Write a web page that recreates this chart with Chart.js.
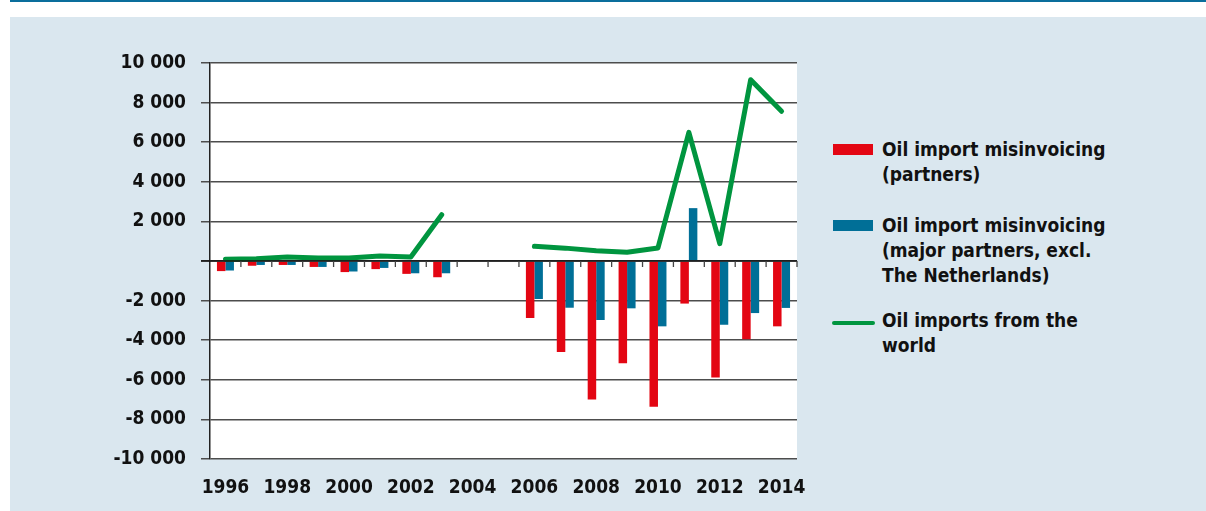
<!DOCTYPE html>
<html>
<head>
<meta charset="utf-8">
<script src="https://cdn.jsdelivr.net/npm/chart.js@4.4.1/dist/chart.umd.min.js"></script>
<style>
  html, body { margin: 0; padding: 0; background: #ffffff; }
  #page { position: relative; width: 1206px; height: 511px; overflow: hidden; }
  #topRule { position: absolute; left: 10px; top: 0; width: 1196px; height: 2px; background: #0a6e9c; }
  #panel { position: absolute; left: 10px; top: 17px; width: 1196px; height: 494px; background: #dae7ef; }
  #oilChart { position: absolute; left: 0; top: 0; }
  #legend { position: absolute; left: 0; top: 0; }
  .legend-item { position: absolute; left: 882px; white-space: nowrap; font-family: 'DejaVu Sans Condensed', 'Liberation Sans Narrow', sans-serif; font-weight: bold; font-size: 19px; line-height: 25px; color: #111; }
  .legend-swatch { position: absolute; left: -49px; width: 40px; }
</style>
</head>
<body>
<div id="page">
  <div id="topRule"></div>
  <div id="panel"></div>
  <canvas id="oilChart" width="820" height="511"></canvas>
  <div id="legend"></div>
</div>
<script>
// --- DATA ---
const years = ['1996', '1997', '1998', '1999', '2000', '2001', '2002', '2003', '2004', '2005',
               '2006', '2007', '2008', '2009', '2010', '2011', '2012', '2013', '2014'];
const partnersMisinvoicing = [-510, -240, -200, -300, -560, -410, -650, -820, null, null,
                              -2880, -4590, -7000, -5170, -7360, -2150, -5880, -3950, -3300];
const majorPartnersMisinvoicing = [-480, -200, -200, -300, -530, -350, -620, -620, null, null,
                                   -1920, -2360, -2980, -2390, -3300, 2670, -3220, -2630, -2370];
const worldImports = [90, 110, 200, 150, 150, 250, 200, 2340, null, null,
                      740, 650, 520, 440, 660, 6500, 875, 9150, 7560];
const yTicks = [-10000, -8000, -6000, -4000, -2000, 0, 2000, 4000, 6000, 8000, 10000];

const seriesLabels = [
    'Oil import misinvoicing (partners)',
    'Oil import misinvoicing (major partners, excl. The Netherlands)',
    'Oil imports from the world'
];
// how the legend breaks each label
const legendLines = [
    ['Oil import misinvoicing', '(partners)'],
    ['Oil import misinvoicing', '(major partners, excl.', 'The Netherlands)'],
    ['Oil imports from the', 'world']
];

const RED = '#e30613';
const BLUE = '#006f97';
const GREEN = '#00953f';
const FONT = "'DejaVu Sans Condensed', 'Liberation Sans Narrow', sans-serif";

function formatThousands(v) {
    if (v === 0) return '';
    const sign = v < 0 ? '-' : '';
    return sign + String(Math.abs(v)).replace(/\B(?=(\d{3})+(?!\d))/g, ' ');
}

// zero line plus small tick marks hanging below it at every category boundary
const zeroLineTicks = {
    id: 'zeroLineTicks',
    afterDatasetsDraw(chart) {
        const { ctx, scales: { x, y } } = chart;
        const y0 = y.getPixelForValue(0);
        ctx.save();
        ctx.strokeStyle = '#111';
        ctx.lineWidth = 1.5;
        ctx.beginPath();
        ctx.moveTo(x.left - 9, y0);
        ctx.lineTo(x.right, y0);
        ctx.stroke();
        ctx.lineWidth = 1.3;
        ctx.strokeStyle = '#444';
        const half = (x.getPixelForValue(1) - x.getPixelForValue(0)) / 2;
        for (let i = 0; i < years.length; i++) {
            const bx = x.getPixelForValue(i) + half;
            ctx.beginPath();
            ctx.moveTo(bx, y0);
            ctx.lineTo(bx, y0 + 6);
            ctx.stroke();
        }
        ctx.restore();
    }
};

const plotBackground = {
    id: 'plotBackground',
    beforeDraw(chart) {
        const { ctx, chartArea } = chart;
        ctx.save();
        ctx.fillStyle = '#ffffff';
        ctx.fillRect(chartArea.left, chartArea.top, chartArea.right - chartArea.left, chartArea.bottom - chartArea.top);
        ctx.restore();
    }
};

const ctx = document.getElementById('oilChart').getContext('2d');
const oilChart = new Chart(ctx, {
    type: 'bar',
    data: {
        labels: years,
        datasets: [
            {
                type: 'line',
                label: seriesLabels[2],
                data: worldImports,
                borderColor: GREEN,
                backgroundColor: GREEN,
                borderWidth: 5,
                pointRadius: 0,
                tension: 0,
                spanGaps: false,
                borderCapStyle: 'round',
                borderJoinStyle: 'round',
                order: 0
            },
            {
                label: seriesLabels[0],
                data: partnersMisinvoicing,
                backgroundColor: RED,
                categoryPercentage: 0.55,
                barPercentage: 1.0,
                order: 1
            },
            {
                label: seriesLabels[1],
                data: majorPartnersMisinvoicing,
                backgroundColor: BLUE,
                categoryPercentage: 0.55,
                barPercentage: 1.0,
                order: 1
            }
        ]
    },
    options: {
        responsive: false,
        animation: false,
        layout: { padding: { left: 0, top: 63, right: 23, bottom: 0 } },
        plugins: {
            legend: { display: false },
            tooltip: { enabled: false }
        },
        scales: {
            x: {
                // invisible tick marks push the labels down without widening the right padding
                grid: { display: true, drawOnChartArea: false, color: 'rgba(0,0,0,0)', drawTicks: true, tickLength: 18 },
                border: { display: false },
                ticks: {
                    autoSkip: false,
                    maxRotation: 0,
                    padding: 0,
                    color: '#111',
                    font: { family: FONT, weight: 'bold', size: 19 },
                    callback: function (val, i) { return i % 2 === 0 ? years[i] : ''; }
                },
                afterFit(scale) { scale.height = 52; }
            },
            y: {
                min: -10000,
                max: 10000,
                afterBuildTicks(scale) { scale.ticks = yTicks.map(v => ({ value: v })); },
                grid: { color: '#4d4d4d', lineWidth: 1.5, tickLength: 9, drawTicks: true },
                border: { display: true, color: '#222', width: 1.5 },
                ticks: {
                    padding: 15,
                    color: '#111',
                    font: { family: FONT, weight: 'bold', size: 19 },
                    callback: formatThousands
                },
                afterFit(scale) { scale.width = 210; }
            }
        }
    },
    plugins: [plotBackground, zeroLineTicks]
});

// --- HTML LEGEND (multi-line labels) ---
const legendEl = document.getElementById('legend');
const legendItems = [
    { lines: legendLines[0], color: RED, top: 137, kind: 'box' },
    { lines: legendLines[1], color: BLUE, top: 213, kind: 'box' },
    { lines: legendLines[2], color: GREEN, top: 308, kind: 'line' }
];
legendItems.forEach(item => {
    const div = document.createElement('div');
    div.className = 'legend-item';
    div.style.top = item.top + 'px';
    const sw = document.createElement('span');
    sw.className = 'legend-swatch';
    sw.style.background = item.color;
    if (item.kind === 'box') {
        sw.style.top = '7px';
        sw.style.height = '11px';
    } else {
        sw.style.top = '13px';
        sw.style.height = '4px';
        sw.style.left = '-50px';
        sw.style.width = '43px';
        sw.style.borderRadius = '2px';
    }
    div.appendChild(sw);
    item.lines.forEach((line, i) => {
        if (i > 0) div.appendChild(document.createElement('br'));
        div.appendChild(document.createTextNode(line));
    });
    legendEl.appendChild(div);
});
</script>
</body>
</html>
